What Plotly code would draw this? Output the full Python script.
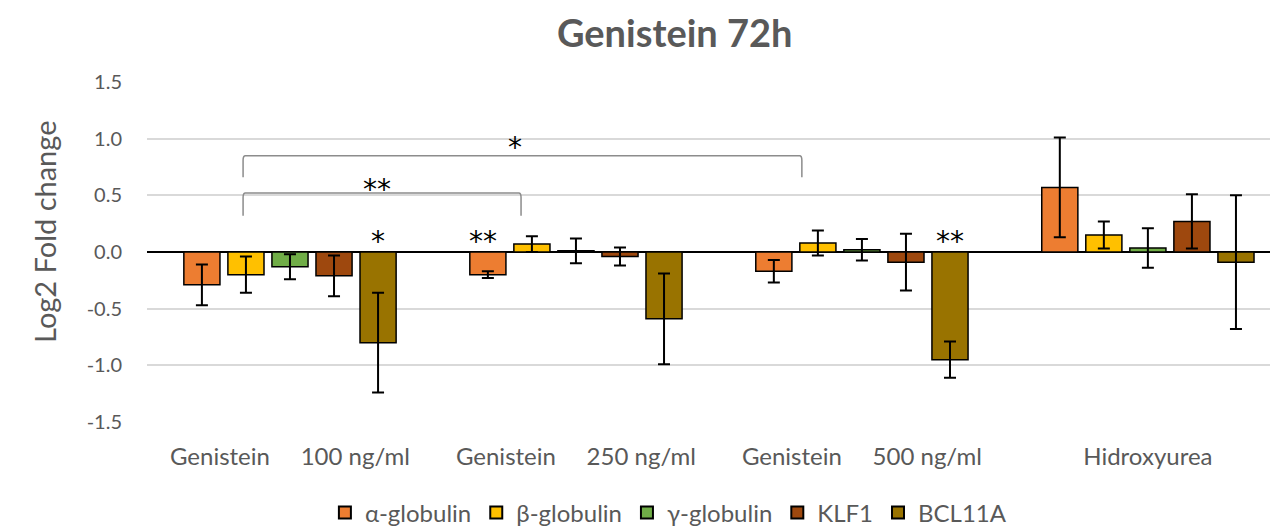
import plotly.graph_objects as go

categories = ["Genistein&#160;&#160;&#160;&#160;&#160;100 ng/ml",
              "Genistein&#160;&#160;&#160;&#160;&#160;250 ng/ml",
              "Genistein&#160;&#160;&#160;&#160;&#160;500 ng/ml",
              "Hidroxyurea"]
series = ["α-globulin", "β-globulin", "γ-globulin", "KLF1", "BCL11A"]
colors = ["#ED7D31", "#FFC000", "#70AD47", "#9E480E", "#997300"]

alpha_vals = [-0.29, -0.20, -0.17, 0.57]
alpha_err = [0.18, 0.03, 0.10, 0.44]
beta_vals = [-0.20, 0.07, 0.08, 0.15]
beta_err = [0.16, 0.07, 0.11, 0.12]
gamma_vals = [-0.13, 0.01, 0.02, 0.035]
gamma_err = [0.11, 0.11, 0.095, 0.175]
klf1_vals = [-0.21, -0.04, -0.09, 0.27]
klf1_err = [0.18, 0.08, 0.25, 0.24]
bcl_vals = [-0.80, -0.59, -0.95, -0.09]
bcl_err = [0.44, 0.40, 0.16, 0.59]

y_ticks = [-1.5, -1.0, -0.5, 0.0, 0.5, 1.0, 1.5]
y_ticklabels = ["-1.5", "-1.0", "-0.5", "0.0", "0.5", "1.0", "1.5"]

values = [alpha_vals, beta_vals, gamma_vals, klf1_vals, bcl_vals]
errors = [alpha_err, beta_err, gamma_err, klf1_err, bcl_err]

# significance brackets: (x_start, x_end, y_line, y_tip, label, label_x, label_y)
brackets = [(-0.164, 1.79, 0.85, 0.66, "*", 0.787, 0.92),
            (-0.164, 0.808, 0.52, 0.32, "**", 0.304, 0.55)]
# single-bar stars: (x, y, label)
bar_stars = [(0.308, 0.09, "*"), (0.675, 0.09, "**"), (2.308, 0.09, "**")]

gray = "#595959"
font = "Lato, 'Open Sans', sans-serif"
star_font = "'DejaVu Sans', sans-serif"
idx = list(range(len(categories)))

fig = go.Figure()
for name, col, v, e in zip(series, colors, values, errors):
    fig.add_trace(go.Bar(
        x=idx, y=v, name=name,
        marker=dict(color=col, line=dict(color="black", width=1.5)),
        error_y=dict(type="data", array=e, visible=True, color="black",
                     thickness=2, width=6),
    ))

shapes = []
annotations = []
for x0, x1, yl, yt, lab, lx, ly in brackets:
    dx = 0.008
    dy = 0.04
    path = (f"M {x0},{yt} L {x0},{yl - dy} Q {x0},{yl} {x0 + dx},{yl} "
            f"L {x1 - dx},{yl} Q {x1},{yl} {x1},{yl - dy} L {x1},{yt}")
    shapes.append(dict(type="path", path=path, xref="x", yref="y",
                       line=dict(color="#8c8c8c", width=1.5)))
    annotations.append(dict(x=lx, y=ly, xref="x", yref="y", text=lab,
                            showarrow=False, yanchor="middle",
                            font=dict(size=28, color="black", family=star_font)))
for sx, sy, lab in bar_stars:
    annotations.append(dict(x=sx, y=sy, xref="x", yref="y", text=lab,
                            showarrow=False, yanchor="middle",
                            font=dict(size=28, color="black", family=star_font)))

# y-axis title as rotated annotation (positioned like the original)
annotations.append(dict(x=(37 - 139) / 1131, y=0.559, xref="x domain", yref="paper",
                        text="Log2 Fold change", textangle=-90, showarrow=False,
                        xanchor="center", yanchor="middle",
                        font=dict(size=29, color=gray, family=font)))

fig.update_layout(
    width=1270, height=519,
    margin=dict(l=139, r=0, t=74, b=105, autoexpand=False),
    paper_bgcolor="white", plot_bgcolor="white",
    barmode="group", bargap=0.23, bargroupgap=0.18,
    title=dict(text="<b>Genistein 72h</b>", x=0.525, xanchor="center",
               y=0.95, yanchor="middle",
               font=dict(size=38, color=gray, family=font)),
    font=dict(family=font, color=gray),
    showlegend=True,
    legend=dict(orientation="h", xref="container", x=0.52, xanchor="center",
                yref="container", y=0.027, yanchor="middle",
                font=dict(size=24, color=gray, family=font),
                itemsizing="constant", traceorder="normal"),
    shapes=shapes,
    annotations=annotations,
)
fig.update_xaxes(
    tickmode="array", tickvals=idx, ticktext=categories,
    range=[-0.5, 3.455], showgrid=False, zeroline=False, showline=False,
    ticks="", ticklabelstandoff=18, automargin=False,
    tickfont=dict(size=24, color=gray, family=font),
)
fig.update_yaxes(
    range=[-1.5, 1.5], tickmode="array", tickvals=y_ticks, ticktext=y_ticklabels,
    showgrid=True, gridcolor="#d9d9d9", gridwidth=1.5,
    zeroline=True, zerolinecolor="black", zerolinewidth=1.5,
    showline=False, ticks="", ticklabelstandoff=24, automargin=False,
    tickfont=dict(size=20, color=gray, family=font),
)

fig.write_html("out.html")
